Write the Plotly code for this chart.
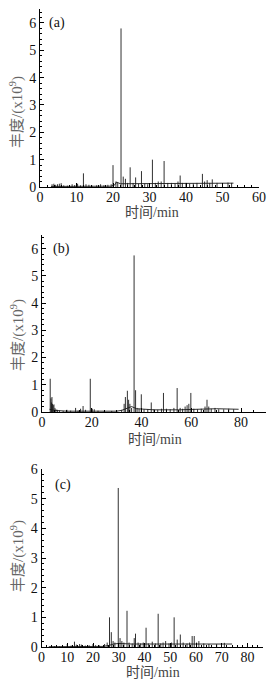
import plotly.graph_objects as go

# ---------------- data ----------------
# Panel (a)
peak_t_a = [3.3, 3.8, 4.3, 4.8, 5.3, 5.8, 6.5, 7.5, 8.8, 9.5, 10.3, 11.1, 11.9, 12.6, 13.4, 14.2,
            15.5, 16.6, 17.5, 18.6, 19.5, 20.0, 20.8, 21.3, 22.2, 22.8, 23.4, 24.0, 24.7, 25.5,
            26.2, 27.0, 27.8, 28.7, 29.5, 30.8, 31.6, 32.4, 33.2, 34.0, 35.0, 36.0, 37.0, 37.8,
            38.4, 39.0, 40.0, 41.0, 42.0, 43.0, 44.5, 45.1, 45.8, 46.5, 47.2, 48.5, 50.0, 51.5, 52.5]
peak_h_a = [0.10, 0.12, 0.08, 0.10, 0.12, 0.14, 0.06, 0.05, 0.10, 0.07, 0.12, 0.06, 0.50, 0.10, 0.08, 0.05,
            0.06, 0.10, 0.06, 0.08, 0.10, 0.80, 0.20, 0.15, 5.80, 0.38, 0.30, 0.15, 0.72, 0.15,
            0.35, 0.12, 0.58, 0.12, 0.10, 1.00, 0.15, 0.20, 0.20, 0.95, 0.15, 0.15, 0.12, 0.20,
            0.42, 0.15, 0.15, 0.12, 0.13, 0.15, 0.48, 0.20, 0.25, 0.15, 0.28, 0.15, 0.14, 0.16, 0.15]
base_t_a = [3.0, 19.5, 20.5, 21.0, 22.0, 25.0, 30.0, 40.0, 53.0]
base_y_a = [0.02, 0.03, 0.08, 0.18, 0.12, 0.12, 0.12, 0.12, 0.14]

# Panel (b)
peak_t_b = [3.3, 3.6, 3.8, 4.0, 4.2, 4.5, 4.8, 5.2, 5.6, 6.2, 7.0, 8.5, 10.0, 11.5, 13.5, 14.5,
            15.5, 16.5, 17.5, 19.4, 20.2, 21.0, 22.5, 25.0, 28.0, 30.0, 32.0, 33.0, 33.5, 34.3,
            34.8, 35.3, 36.0, 37.0, 37.6, 38.2, 39.0, 39.9, 41.0, 42.5, 43.9, 45.0, 46.5, 48.0,
            48.8, 50.0, 51.5, 53.0, 54.3, 55.5, 56.5, 57.5, 58.3, 59.0, 59.8, 61.0, 62.5, 64.0,
            65.5, 66.3, 67.0, 68.0, 69.5, 71.0, 73.0, 75.0, 77.0]
peak_h_b = [1.22, 0.50, 0.35, 0.55, 0.30, 0.25, 0.28, 0.15, 0.10, 0.08, 0.06, 0.04, 0.08, 0.05, 0.15, 0.05,
            0.12, 0.22, 0.08, 1.22, 0.12, 0.10, 0.05, 0.03, 0.04, 0.06, 0.08, 0.30, 0.55, 0.78,
            0.45, 0.30, 0.15, 5.75, 0.80, 0.15, 0.12, 0.65, 0.10, 0.10, 0.35, 0.10, 0.08, 0.12,
            0.70, 0.12, 0.10, 0.15, 0.88, 0.15, 0.12, 0.20, 0.25, 0.30, 0.70, 0.12, 0.10, 0.12,
            0.20, 0.45, 0.20, 0.12, 0.15, 0.10, 0.10, 0.12, 0.10]
base_t_b = [3.0, 5.0, 10.0, 20.0, 30.0, 32.0, 33.0, 36.0, 38.0, 45.0, 55.0, 65.0, 70.0, 79.0]
base_y_b = [0.10, 0.06, 0.03, 0.02, 0.03, 0.06, 0.10, 0.20, 0.12, 0.08, 0.08, 0.12, 0.12, 0.10]

# Panel (c)
peak_t_c = [3.0, 5.0, 7.0, 10.0, 11.5, 12.8, 13.5, 14.8, 15.5, 17.0, 18.5, 20.0, 21.0, 22.5, 24.5,
            25.5, 26.4, 27.1, 27.8, 28.5, 29.8, 30.5, 31.2, 32.0, 33.2, 34.0, 35.2, 36.0, 36.5,
            37.5, 38.5, 39.5, 40.6, 41.5, 43.0, 44.2, 45.3, 46.3, 47.2, 48.2, 49.5, 50.5, 51.5,
            52.7, 53.9, 55.0, 56.5, 57.5, 58.5, 59.3, 60.2, 61.1, 63.0, 65.0, 68.0, 71.0]
peak_h_c = [0.02, 0.03, 0.02, 0.10, 0.05, 0.18, 0.08, 0.10, 0.08, 0.05, 0.06, 0.10, 0.06, 0.05, 0.10,
            0.15, 1.00, 0.50, 0.20, 0.15, 5.36, 0.30, 0.20, 0.15, 1.22, 0.15, 0.12, 0.30, 0.45,
            0.15, 0.12, 0.15, 0.65, 0.12, 0.18, 0.12, 1.12, 0.12, 0.15, 0.20, 0.12, 0.15, 1.00,
            0.25, 0.42, 0.15, 0.12, 0.15, 0.37, 0.37, 0.15, 0.20, 0.12, 0.10, 0.10, 0.14]
base_t_c = [3.0, 24.0, 26.0, 28.0, 30.0, 35.0, 50.0, 60.0, 74.0]
base_y_c = [0.01, 0.02, 0.05, 0.10, 0.12, 0.10, 0.10, 0.10, 0.10]

panel_labels = ["(a)", "(b)", "(c)"]
x_title = "时间/min"
y_title = "丰度/(x10<sup>9</sup>)"

# ---------------- figure ----------------
W, H = 277, 682
panels = [
    dict(pt=peak_t_a, ph=peak_h_a, bt=base_t_a, by=base_y_a, xr=[0, 60], yr=[0, 6.5], dt=10,
         px=(40, 259), py=(9.3, 187), lab=(57, 23), xt=(152, 213), yt=(17, 112)),
    dict(pt=peak_t_b, ph=peak_h_b, bt=base_t_b, by=base_y_b, xr=[0, 90], yr=[0, 6.5], dt=20,
         px=(42, 266), py=(235, 412), lab=(61, 249), xt=(155, 439), yt=(17, 335)),
    dict(pt=peak_t_c, ph=peak_h_c, bt=base_t_c, by=base_y_c, xr=[0, 86], yr=[0, 6], dt=10,
         px=(41.5, 263), py=(469, 647), lab=(63, 485), xt=(153, 672), yt=(17, 556)),
]

fig = go.Figure()
annotations = []
line_col = "#1a1a1a"
serif = "Liberation Serif, Noto Sans CJK SC, serif"

for i, p in enumerate(panels):
    n = "" if i == 0 else str(i + 1)
    xa, ya = "x" + n, "y" + n
    fig.add_trace(go.Scatter(x=p["bt"], y=p["by"], mode="lines", xaxis=xa, yaxis=ya,
                             line=dict(color=line_col, width=0.9), showlegend=False,
                             hoverinfo="skip"))
    xs, ys = [], []
    for t, h in zip(p["pt"], p["ph"]):
        xs += [t, t, None]
        ys += [0, h, None]
    fig.add_trace(go.Scatter(x=xs, y=ys, mode="lines", xaxis=xa, yaxis=ya,
                             line=dict(color=line_col, width=0.9), showlegend=False,
                             hoverinfo="skip"))
    xd = [p["px"][0] / W, p["px"][1] / W]
    yd = [1 - p["py"][1] / H, 1 - p["py"][0] / H]
    common = dict(showline=True, linecolor="black", linewidth=1, showgrid=False, zeroline=False,
                  ticks="inside", ticklen=4, tickwidth=1, tickcolor="black", automargin=False,
                  tickfont=dict(family=serif, size=14, color="#111"),
                  minor=dict(ticks="inside", ticklen=2, tickwidth=1, tickcolor="black"))
    fig.layout["xaxis" + n] = dict(domain=xd, range=p["xr"], anchor=ya, tick0=0, dtick=p["dt"],
                                   ticklabelstandoff=-3, **common)
    fig.layout["yaxis" + n] = dict(domain=yd, range=p["yr"], anchor=xa, tick0=0, dtick=1,
                                   **common)
    annotations.append(dict(text=panel_labels[i], x=p["lab"][0] / W, y=1 - p["lab"][1] / H,
                            xref="paper", yref="paper", showarrow=False,
                            xanchor="center", yanchor="middle",
                            font=dict(family=serif, size=14, color="#111")))
    annotations.append(dict(text=x_title, x=p["xt"][0] / W, y=1 - p["xt"][1] / H,
                            xref="paper", yref="paper", showarrow=False,
                            xanchor="center", yanchor="middle",
                            font=dict(family=serif, size=14, color="#444")))
    annotations.append(dict(text=y_title, x=p["yt"][0] / W, y=1 - p["yt"][1] / H,
                            xref="paper", yref="paper", showarrow=False, textangle=-90,
                            xanchor="center", yanchor="middle",
                            font=dict(family=serif, size=15, color="#666")))

fig.update_layout(width=W, height=H, margin=dict(l=0, r=0, t=0, b=0, autoexpand=False),
                  paper_bgcolor="white", plot_bgcolor="white",
                  annotations=annotations, showlegend=False)
fig.write_html("out.html", config={"displayModeBar": False},
               post_script="document.body.style.margin='0';document.body.style.overflow='hidden';")
